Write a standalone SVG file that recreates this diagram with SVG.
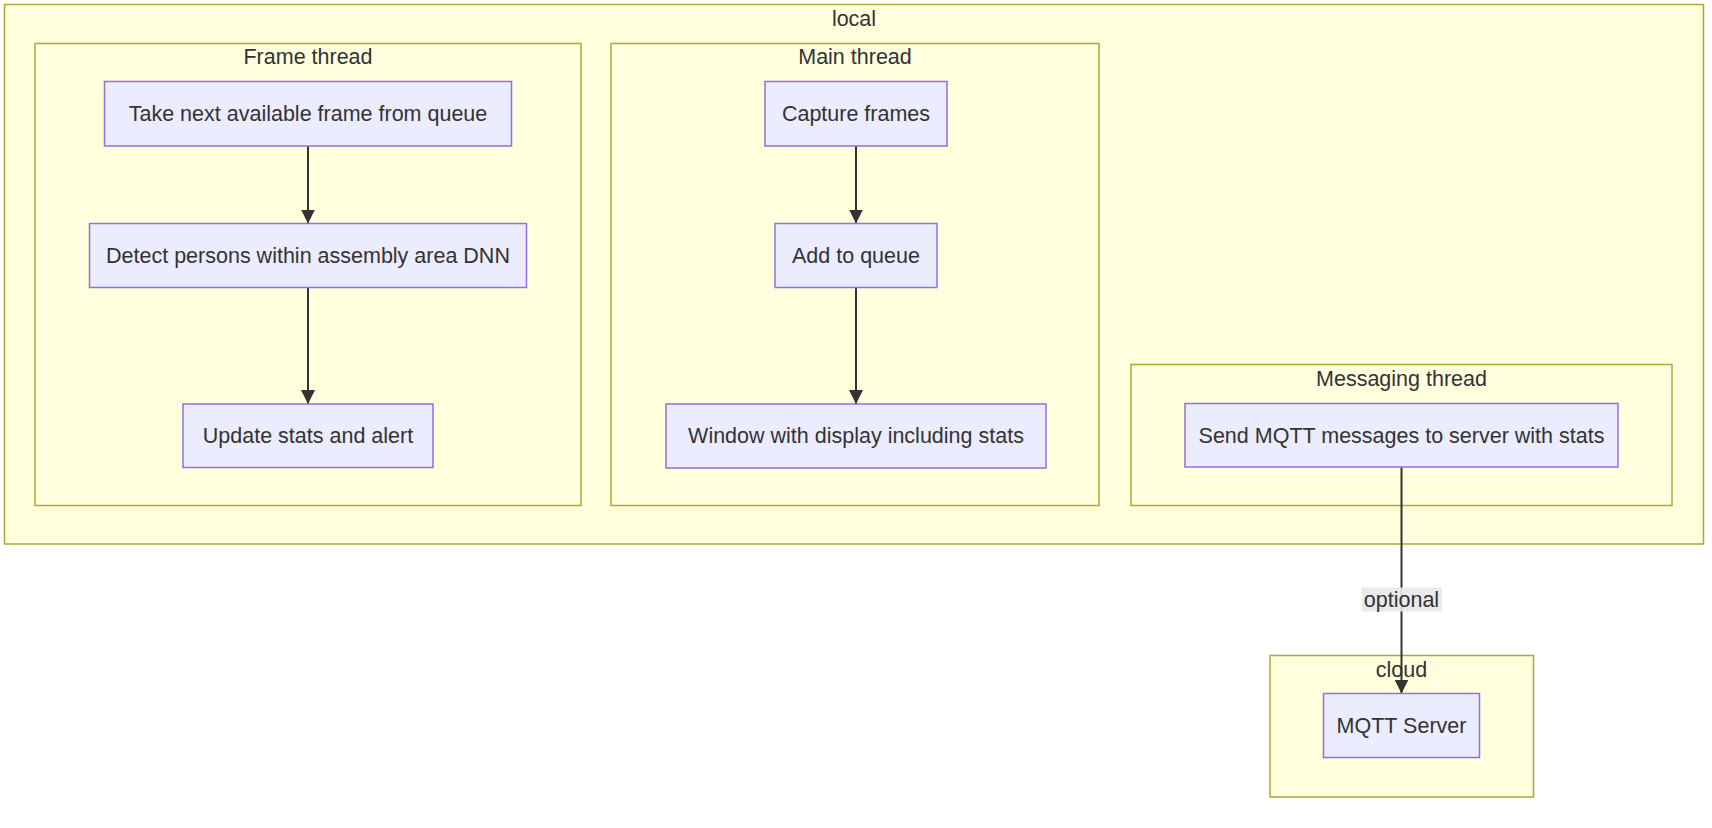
<svg xmlns="http://www.w3.org/2000/svg" width="1712" height="828" viewBox="0 0 1712 828">
<style>
  .cluster rect { fill: #ffffde; stroke: #aaaa33; stroke-width: 1.5; }
  .node rect { fill: #ececff; stroke: #9370db; stroke-width: 1.5; }
  text { font-family: "Liberation Sans", Arial, sans-serif; font-size: 21.5px; fill: #333333; text-anchor: middle; dominant-baseline: central; }
  .edge { stroke: #333333; stroke-width: 2; fill: none; }
  .elbl { fill: #e8e8e8; opacity: 0.9; }
</style>
<defs>
  <marker id="arrow" markerUnits="userSpaceOnUse" markerWidth="14" markerHeight="14" viewBox="0 0 14 14" refX="14" refY="7" orient="auto">
    <path d="M0,0 L14,7 L0,14 z" fill="#333333"/>
  </marker>
</defs>
<rect width="1712" height="828" fill="#ffffff"/>
<g id="clusters">
  <g id="local" class="cluster"><rect x="4.5" y="4.5" width="1699" height="539.5"/><text x="854" y="18.5">local</text></g>
  <g id="frame-thread" class="cluster"><rect x="35" y="43.5" width="546" height="462"/><text x="308" y="57">Frame thread</text></g>
  <g id="main-thread" class="cluster"><rect x="611" y="43.5" width="488" height="462"/><text x="855" y="57">Main thread</text></g>
  <g id="messaging-thread" class="cluster"><rect x="1131" y="364.5" width="541" height="141"/><text x="1401.5" y="379">Messaging thread</text></g>
  <g id="cloud" class="cluster"><rect x="1270" y="655.5" width="263.5" height="141.5"/><text x="1401.5" y="669.5">cloud</text></g>
</g>
<g id="connectors">
  <path class="edge" d="M308,146 L308,223.5" marker-end="url(#arrow)"/>
  <path class="edge" d="M308,287.5 L308,404" marker-end="url(#arrow)"/>
  <path class="edge" d="M856,146 L856,223.5" marker-end="url(#arrow)"/>
  <path class="edge" d="M856,287.5 L856,404" marker-end="url(#arrow)"/>
  <path class="edge" d="M1401.5,467 L1401.5,693.5" marker-end="url(#arrow)"/>
  <g id="edge-label-optional">
    <rect class="elbl" x="1361.5" y="587.5" width="80.5" height="24"/>
    <text x="1401.5" y="599.5">optional</text>
  </g>
</g>
<g id="nodes">
  <g id="take-frame" class="node"><rect x="104.5" y="81.5" width="407" height="64.5"/><text x="308" y="114">Take next available frame from queue</text></g>
  <g id="detect" class="node"><rect x="89.5" y="223.5" width="437" height="64"/><text x="308" y="255.5">Detect persons within assembly area DNN</text></g>
  <g id="update" class="node"><rect x="183" y="404" width="250" height="63.5"/><text x="308" y="436">Update stats and alert</text></g>
  <g id="capture" class="node"><rect x="765" y="81.5" width="182" height="64.5"/><text x="856" y="114">Capture frames</text></g>
  <g id="add-queue" class="node"><rect x="775" y="223.5" width="162" height="64"/><text x="856" y="255.5">Add to queue</text></g>
  <g id="window" class="node"><rect x="666" y="404" width="380" height="64"/><text x="856" y="436">Window with display including stats</text></g>
  <g id="send-mqtt" class="node"><rect x="1185" y="403.5" width="433" height="63.5"/><text x="1401.5" y="435.5">Send MQTT messages to server with stats</text></g>
  <g id="mqtt-server" class="node"><rect x="1323.5" y="693.5" width="156" height="64"/><text x="1401.5" y="725.5">MQTT Server</text></g>
</g>
</svg>
